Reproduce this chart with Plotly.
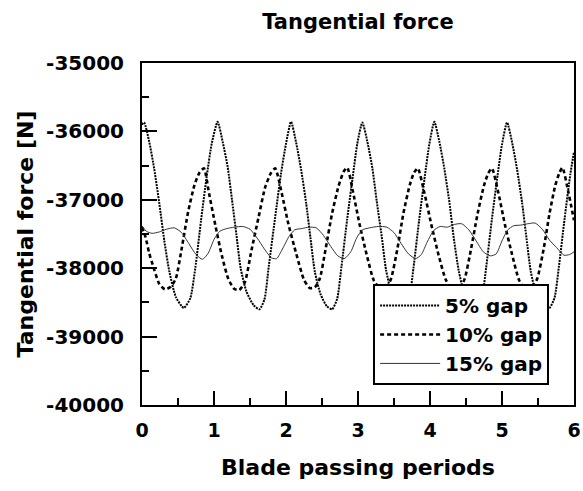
import plotly.graph_objects as go

# 5% gap (fine dotted)
X_5 = [0.00, 0.03, 0.10, 0.17, 0.24, 0.31, 0.38, 0.47, 0.58, 0.67, 0.74, 0.82, 0.90, 0.97,
       1.05, 1.12, 1.19, 1.25, 1.31, 1.37, 1.45, 1.55, 1.63, 1.70, 1.76, 1.85, 1.93, 2.00,
       2.07, 2.14, 2.21, 2.28, 2.34, 2.40, 2.48, 2.57, 2.64, 2.71, 2.77, 2.85, 2.93, 2.99,
       3.06, 3.13, 3.20, 3.26, 3.33, 3.39, 3.47, 3.56, 3.64, 3.71, 3.77, 3.85, 3.93, 3.99,
       4.06, 4.13, 4.20, 4.27, 4.33, 4.40, 4.48, 4.57, 4.65, 4.72, 4.78, 4.86, 4.94, 5.00,
       5.07, 5.14, 5.21, 5.28, 5.34, 5.40, 5.48, 5.58, 5.66, 5.73, 5.79, 5.87, 5.95, 6.00]
Y_5 = [-35900, -35870, -36150, -36550, -37050, -37600, -38050, -38420, -38580, -38440, -38000, -37300, -36650, -36170,
       -35860, -36150, -36520, -37000, -37500, -38000, -38340, -38540, -38600, -38460, -37980, -37250, -36620, -36180,
       -35860, -36160, -36560, -37050, -37560, -38050, -38380, -38560, -38600, -38450, -37980, -37280, -36640, -36180,
       -35870, -36150, -36540, -37020, -37540, -38030, -38380, -38560, -38590, -38450, -38000, -37290, -36640, -36190,
       -35860, -36150, -36550, -37040, -37560, -38040, -38390, -38570, -38590, -38440, -37990, -37280, -36630, -36190,
       -35870, -36160, -36560, -37050, -37560, -38050, -38400, -38580, -38580, -38430, -37980, -37270, -36620, -36300]

# 10% gap (dashed)
X_10 = [0.00, 0.05, 0.10, 0.17, 0.24, 0.32, 0.40, 0.47, 0.55, 0.64, 0.73, 0.80,
        0.86, 0.93, 1.02, 1.11, 1.20, 1.28, 1.35, 1.43, 1.52, 1.62, 1.71, 1.79,
        1.85, 1.94, 2.03, 2.14, 2.25, 2.33, 2.40, 2.47, 2.55, 2.64, 2.73, 2.80,
        2.85, 2.93, 3.02, 3.12, 3.22, 3.31, 3.38, 3.46, 3.55, 3.63, 3.72, 3.78,
        3.83, 3.92, 4.02, 4.12, 4.22, 4.31, 4.40, 4.48, 4.57, 4.66, 4.75, 4.81,
        4.86, 4.95, 5.04, 5.14, 5.24, 5.33, 5.41, 5.49, 5.58, 5.66, 5.74, 5.80,
        5.84, 5.92, 6.00]
Y_10 = [-37400, -37550, -37780, -38020, -38230, -38310, -38270, -38150, -37720, -37180, -36780, -36600,
        -36540, -36900, -37380, -37820, -38160, -38300, -38320, -38200, -37740, -37250, -36820, -36610,
        -36540, -36900, -37340, -37780, -38170, -38290, -38280, -38150, -37720, -37200, -36800, -36590,
        -36530, -36880, -37350, -37800, -38180, -38300, -38310, -38150, -37700, -37200, -36780, -36600,
        -36540, -36890, -37370, -37810, -38170, -38300, -38310, -38160, -37720, -37210, -36790, -36610,
        -36540, -36900, -37360, -37800, -38180, -38300, -38300, -38150, -37710, -37200, -36790, -36600,
        -36530, -36880, -37300]

# 15% gap (thin solid)
X_15 = [0.00, 0.06, 0.14, 0.24, 0.34, 0.45, 0.55, 0.65, 0.75, 0.84, 0.92,
        1.00, 1.08, 1.18, 1.28, 1.40, 1.50, 1.60, 1.70, 1.80, 1.87, 1.95,
        2.04, 2.12, 2.22, 2.32, 2.42, 2.52, 2.62, 2.72, 2.81, 2.90,
        2.98, 3.06, 3.16, 3.28, 3.40, 3.50, 3.60, 3.70, 3.80, 3.88,
        3.96, 4.05, 4.14, 4.24, 4.34, 4.44, 4.54, 4.64, 4.74, 4.84, 4.92,
        5.00, 5.08, 5.16, 5.26, 5.36, 5.46, 5.56, 5.66, 5.76, 5.86, 5.94, 6.00]
Y_15 = [-37380, -37460, -37490, -37470, -37430, -37410, -37480, -37640, -37800, -37870, -37780,
        -37580, -37460, -37420, -37400, -37390, -37430, -37560, -37720, -37850, -37860, -37720,
        -37540, -37440, -37420, -37400, -37410, -37520, -37680, -37820, -37860, -37760,
        -37560, -37440, -37410, -37390, -37400, -37480, -37640, -37790, -37860, -37800,
        -37620, -37450, -37390, -37400, -37360, -37350, -37440, -37600, -37760, -37820, -37790,
        -37600, -37440, -37380, -37370, -37350, -37340, -37430, -37590, -37700, -37810, -37800, -37760]

X_TICKS = [0, 1, 2, 3, 4, 5, 6]
Y_TICKS = [-40000, -39000, -38000, -37000, -36000, -35000]
Y_TICK_LABELS = ["-40000", "-39000", "-38000", "-37000", "-36000", "-35000"]

FONT = "DejaVu Sans, Arial, sans-serif"

fig = go.Figure()
fig.add_trace(go.Scatter(x=X_5, y=Y_5, mode="lines", name="5% gap",
                         line=dict(color="black", width=2, dash="2px,1px", shape="spline", smoothing=0.6)))
fig.add_trace(go.Scatter(x=X_10, y=Y_10, mode="lines", name="10% gap",
                         line=dict(color="black", width=2.6, dash="4px,3px", shape="spline", smoothing=0.6)))
fig.add_trace(go.Scatter(x=X_15, y=Y_15, mode="lines", name="15% gap",
                         line=dict(color="#333333", width=1, shape="spline", smoothing=0.6)))

axis_common = dict(
    showline=True, linecolor="black", linewidth=2, mirror=True,
    showgrid=False, zeroline=False,
    ticks="inside", tickcolor="black", tickwidth=1.5,
)

fig.update_xaxes(
    range=[0, 6], tickvals=X_TICKS, ticklen=14, ticklabelstandoff=7,
    tickfont=dict(family=FONT, size=19, color="black", weight="bold"),
    minor=dict(ticks="inside", dtick=0.5, ticklen=7, tickcolor="black", tickwidth=1.5),
    title=dict(text="<b>Blade passing periods</b>", font=dict(family=FONT, size=22, color="black"), standoff=20),
    **axis_common,
)
fig.update_yaxes(
    range=[-40000, -35000], tickvals=Y_TICKS, ticktext=Y_TICK_LABELS, ticklen=15, ticklabelstandoff=12,
    tickfont=dict(family=FONT, size=20, color="black", weight="bold"),
    minor=dict(ticks="inside", dtick=500, ticklen=7, tickcolor="black", tickwidth=1.5),
    title=dict(text="<b>Tangential force [N]</b>", font=dict(family=FONT, size=22, color="black"), standoff=6),
    **axis_common,
)

fig.update_layout(
    width=583, height=491,
    margin=dict(l=142, r=9, t=63, b=86, autoexpand=False),
    paper_bgcolor="white", plot_bgcolor="white",
    title=dict(text="<b>Tangential force</b>", x=0.5, xref="paper", y=0.955, yanchor="middle",
               font=dict(family=FONT, size=21, color="black")),
    legend=dict(x=0.535, y=0.354, xanchor="left", yanchor="top",
                bgcolor="white", bordercolor="black", borderwidth=2,
                font=dict(family=FONT, size=20, color="black", weight="bold"),
                itemwidth=60, tracegroupgap=4),
    showlegend=True,
)

# drop the default page margin so the figure fills the window exactly
fig.write_html("out.html", config={"displayModeBar": False},
               post_script="document.body.style.margin = '0px';")
